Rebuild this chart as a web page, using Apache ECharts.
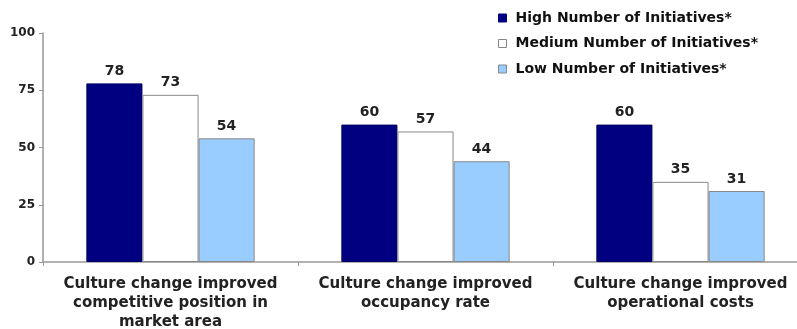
<!DOCTYPE html>
<html>
<head>
<meta charset="utf-8">
<script src="https://cdn.jsdelivr.net/npm/echarts@6/dist/echarts.min.js"></script>
<style>
  html, body { margin: 0; padding: 0; background: #fff; overflow: hidden; }
  /* the original plot runs past the right edge of the picture */
  #chart { width: 808px; height: 329px; }
</style>
</head>
<body>
<div id="chart"></div>
<script>
const categories = [
  'Culture change improved\ncompetitive position in\nmarket area',
  'Culture change improved\noccupancy rate',
  'Culture change improved\noperational costs'
]
const seriesNames = [
  'High Number of Initiatives*',
  'Medium Number of Initiatives*',
  'Low Number of Initiatives*'
]
const highValues = [78, 60, 60]
const mediumValues = [73, 57, 35]
const lowValues = [54, 44, 31]
const yTicks = [0, 25, 50, 75, 100]

const font = 'DejaVu Sans, Verdana, sans-serif'
const colors = ['#000080', '#ffffff', '#99ccff']

const myChart = echarts.init(document.getElementById('chart'))

const makeSeries = (name, values, i) => ({
  name,
  type: 'bar',
  data: values,
  barGap: '0%',
  barCategoryGap: '34%',
  itemStyle: {
    color: colors[i],
    borderColor: i === 0 ? '#000060' : '#888888',
    borderWidth: 1
  },
  label: {
    show: true,
    position: 'top',
    distance: 5,
    color: '#222',
    fontFamily: font,
    fontWeight: 'bold',
    fontSize: 14
  }
})

myChart.setOption({
  animation: false,
  grid: { left: 43, top: 33, bottom: 67, right: 0, outerBoundsMode: 'none', containLabel: false },
  legend: {
    orient: 'vertical',
    left: 493,
    top: 6,
    itemWidth: 8,
    itemHeight: 8,
    itemGap: 11.5,
    icon: 'rect',
    textStyle: {
      fontFamily: font,
      fontWeight: 'bold',
      fontSize: 14,
      color: '#111',
      padding: [0, 0, 0, 4]
    },
    data: seriesNames.map((n, i) => ({
      name: n,
      itemStyle: { color: colors[i], borderColor: i === 0 ? '#000080' : '#888', borderWidth: 1 }
    }))
  },
  xAxis: {
    type: 'category',
    data: categories,
    axisLine: { lineStyle: { color: '#999', width: 1.5 } },
    axisTick: { show: true, length: 4, lineStyle: { color: '#999' } },
    axisLabel: {
      interval: 0,
      margin: 13,
      color: '#222',
      fontFamily: font,
      fontWeight: 'bold',
      fontSize: 15,
      lineHeight: 19
    }
  },
  yAxis: {
    type: 'value',
    min: yTicks[0],
    max: yTicks[yTicks.length - 1],
    interval: 25,
    splitLine: { show: false },
    axisLine: { show: true, lineStyle: { color: '#999', width: 1.5 } },
    axisTick: { show: true, length: 4, lineStyle: { color: '#999' } },
    axisLabel: {
      margin: 8,
      color: '#222',
      fontFamily: font,
      fontWeight: 'bold',
      fontSize: 12
    }
  },
  series: [
    makeSeries(seriesNames[0], highValues, 0),
    makeSeries(seriesNames[1], mediumValues, 1),
    makeSeries(seriesNames[2], lowValues, 2)
  ]
})
</script>
</body>
</html>
